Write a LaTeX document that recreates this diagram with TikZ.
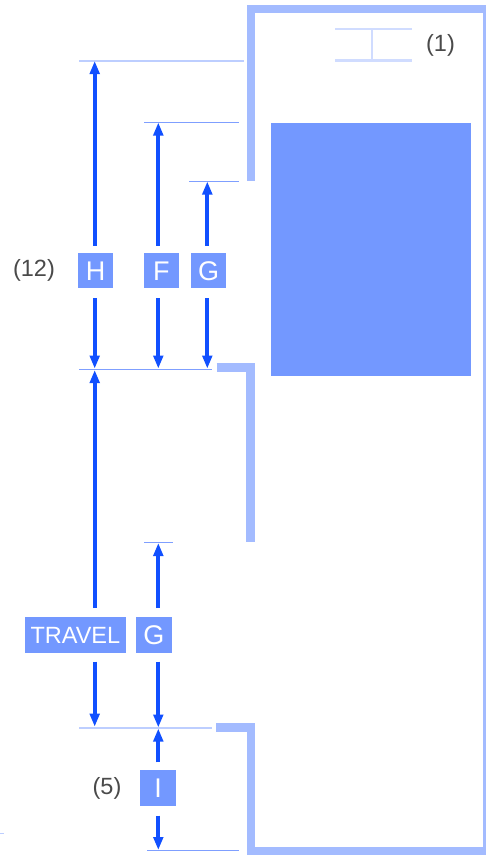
\documentclass[tikz,border=0pt]{standalone}
\usepackage{fontspec}
\setmainfont{Liberation Sans}
\usetikzlibrary{arrows.meta}
\definecolor{wallc}{HTML}{A3BBFF}
\definecolor{boxc}{HTML}{7398FF}
\definecolor{arrc}{HTML}{1150FF}
\definecolor{palec}{HTML}{D0DCFF}
\definecolor{refc}{HTML}{7F9FFF}
\definecolor{lightref}{HTML}{BDCEFF}
\definecolor{txtc}{HTML}{4A4A4A}
\tikzset{
  wall/.style={draw=wallc,line width=8.2pt,line cap=butt,line join=miter},
  dim/.style={draw=arrc,line width=4pt,-{Triangle[length=13pt,width=9.5pt]}},
  reflight/.style={draw=lightref,line width=1.5pt},
  refdark/.style={draw=refc,line width=1.2pt},
  tag/.style={fill=boxc,text=white,font=\fontsize{27}{27}\selectfont,inner sep=0pt,minimum height=35.6pt,minimum width=35.5pt,text height=19.3pt,text depth=0pt},
  note/.style={text=txtc,font=\fontsize{23.5}{23.5}\selectfont,inner sep=0pt},
  beam/.style={draw=palec,line width=2.4pt}
}
\begin{document}
\begin{tikzpicture}[x=1pt,y=-1pt]
\useasboundingbox (0,0) rectangle (486,855);
% walls
\draw[wall] (250.7,181) -- (250.7,9) -- (487,9) -- (487,851) -- (250.7,851) -- (250.7,727.5) -- (216,727.5);
\draw[wall] (216.7,367.5) -- (250.5,367.5) -- (250.5,542);
% car
\fill[boxc] (271,123) rectangle (471,376);
% beam
\coordinate (b1) at (335,29); \coordinate (b2) at (412,29);
\coordinate (b3) at (335,60.5); \coordinate (b4) at (412,60.5);
\coordinate (b5) at (372,29); \coordinate (b6) at (372,60.5);
\draw[beam] (b1) -- (b2); \draw[beam] (b3) -- (b4); \draw[beam] (b5) -- (b6);
% reference lines
\coordinate (rH1) at (79,61); \coordinate (rH2) at (244,61);
\coordinate (rF1) at (144,122.5); \coordinate (rF2) at (239,122.5);
\coordinate (rG1) at (189,181.5); \coordinate (rG2) at (239,181.5);
\coordinate (rA1) at (79,369.3); \coordinate (rA2) at (212,369.3);
\coordinate (rT1) at (79,728); \coordinate (rT2) at (212,728);
\coordinate (rG3) at (144,542.5); \coordinate (rG4) at (173,542.5);
\coordinate (rI1) at (147,850.5); \coordinate (rI2) at (239,850.5);
\coordinate (rS1) at (0,833.7); \coordinate (rS2) at (4,833.7);
\draw[reflight] (rH1) -- (rH2);
\draw[refdark] (rF1) -- (rF2);
\draw[refdark] (rG1) -- (rG2);
\draw[refdark] (rA1) -- (rA2);
\draw[reflight] (rT1) -- (rT2);
\draw[refdark] (rG3) -- (rG4);
\draw[refdark] (rI1) -- (rI2);
\draw[reflight] (rS1) -- (rS2);
% tags
\node[tag] (H) at (95.5,270.5) {H};
\node[tag] (F) at (161.3,270.5) {F};
\node[tag] (G1) at (208.7,270.5) {G};
\node[tag,minimum width=100.7pt,font=\fontsize{23.5}{23.5}\selectfont,text height=16.8pt] (T) at (75.4,634.7) {TRAVEL};
\node[tag] (G2) at (153.9,634.7) {G};
\node[tag] (I) at (158.2,787.7) {I};
\node[note] (n12) at (34,270.5) {(12)};
\node[note] (n5) at (107,788.5) {(5)};
\node[note] (n1) at (440.5,45.5) {(1)};
% dimension arrows
\coordinate (aH) at (94.7,61); \coordinate (aHs) at (94.7,245.5);
\coordinate (aF) at (158.3,122.5); \coordinate (aFs) at (158.3,245.5);
\coordinate (aG) at (207.3,181.5); \coordinate (aGs) at (207.3,245.5);
\coordinate (aH2s) at (94.7,298.3); \coordinate (aH2) at (94.7,368.6);
\coordinate (aF2s) at (158.3,298.3); \coordinate (aF2) at (158.3,368.6);
\coordinate (aG2s) at (207.3,298.3); \coordinate (aG2) at (207.3,368.6);
\coordinate (aT1s) at (94.7,608); \coordinate (aT1) at (94.7,370);
\coordinate (aT2s) at (94.7,661.7); \coordinate (aT2) at (94.7,726.7);
\coordinate (aG3s) at (158.3,608); \coordinate (aG3) at (158.3,543);
\coordinate (aG4s) at (158.3,661.7); \coordinate (aG4) at (158.3,727.5);
\coordinate (aI1s) at (158.3,762.3); \coordinate (aI1) at (158.3,728.5);
\coordinate (aI2s) at (158.3,815.7); \coordinate (aI2) at (158.3,850);
\foreach \s/\e in {aHs/aH,aFs/aF,aGs/aG,aH2s/aH2,aF2s/aF2,aG2s/aG2,aT1s/aT1,aT2s/aT2,aG3s/aG3,aG4s/aG4,aI1s/aI1,aI2s/aI2}
  \draw[dim] (\s) -- (\e);
\end{tikzpicture}
\end{document}
